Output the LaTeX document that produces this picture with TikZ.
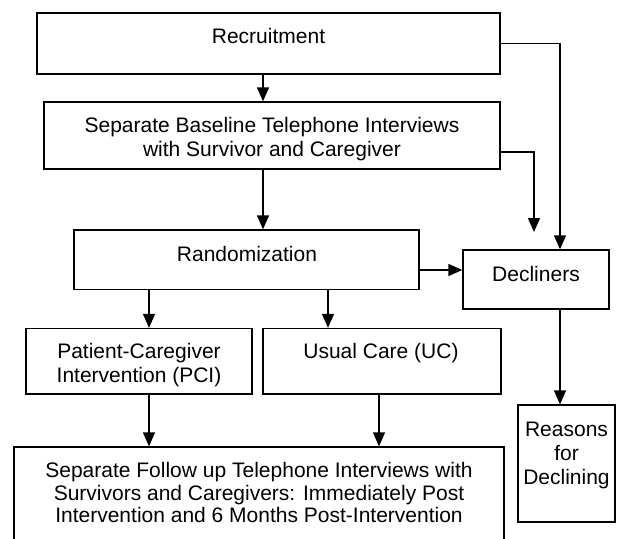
\documentclass[tikz,border=0pt]{standalone}
\usepackage{fontspec}
\setmainfont{Liberation Sans}
\usetikzlibrary{arrows.meta}
\begin{document}
\begin{tikzpicture}[x=1pt,y=-1pt,
  box/.style={draw,line width=1.3pt,inner sep=0pt},
  txt/.style={inner sep=0pt,align=center,font=\fontsize{21}{24}\selectfont},
  arr/.style={line width=1.3pt,-{Triangle[length=14pt,width=12pt]}}]
  \useasboundingbox (0,0) rectangle (631,538);
  % boxes
  \node[box,minimum width=463pt,minimum height=61pt] (recruit) at (268.5,43.5) {};
  \node[box,minimum width=456pt,minimum height=67pt] (baseline) at (272,135.5) {};
  \node[box,minimum width=345pt,minimum height=59.5pt] (rand) at (246.5,259.75) {};
  \node[box,minimum width=146pt,minimum height=59pt] (decliners) at (536,279.5) {};
  \node[box,minimum width=226pt,minimum height=65.5pt] (pci) at (139,361.25) {};
  \node[box,minimum width=238pt,minimum height=65.5pt] (uc) at (382,361.25) {};
  \node[box,minimum width=97pt,minimum height=117pt] (reasons) at (566.5,463.5) {};
  \node[box,minimum width=490pt,minimum height=98pt] (followup) at (259,496) {};
  % texts
  \node[txt] (recruitT) at (268.5,35.5) {Recruitment};
  \node[txt] (baselineT) at (272,139.5) {Separate Baseline Telephone Interviews\\with Survivor and Caregiver};
  \node[txt] (randT) at (247,254) {Randomization};
  \node[txt] (declinersT) at (536,274) {Decliners};
  \node[txt] (pciT) at (139,365.5) {Patient-Caregiver\\Intervention (PCI)};
  \node[txt] (ucT) at (381,353.5) {Usual Care (UC)};
  \node[txt] (reasonsT) at (566.5,455) {Reasons\\for\\Declining};
  \node[txt,font=\fontsize{21}{22.5}\selectfont] (followupT) at (259,492.5) {Separate Follow up Telephone Interviews with\\Survivors and Caregivers: Immediately Post\\Intervention and 6 Months Post-Intervention};
  % arrows
  \coordinate (spine) at (263,0); \coordinate (pcicol) at (149,0);
  \coordinate (uccol) at (328,0); \coordinate (ucdown) at (379,0);
  \coordinate (rcol) at (560,0); \coordinate (side) at (0,270);
  \coordinate (gapend) at (534,232);
  \draw[arr] (recruit.south -| spine) -- (baseline.north -| spine);
  \draw[arr] (baseline.south -| spine) -- (rand.north -| spine);
  \draw[arr] (recruit.east) -| (decliners.north -| rcol);
  \draw[arr] ([yshift=-16.5pt]baseline.east) -| (gapend);
  \draw[arr] (rand.east |- side) -- (decliners.west |- side);
  \draw[arr] (rand.south -| pcicol) -- (pci.north -| pcicol);
  \draw[arr] (rand.south -| uccol) -- (uc.north -| uccol);
  \draw[arr] (pci.south -| pcicol) -- (followup.north -| pcicol);
  \draw[arr] (uc.south -| ucdown) -- (followup.north -| ucdown);
  \draw[arr] (decliners.south -| rcol) -- (reasons.north -| rcol);
\end{tikzpicture}
\end{document}
